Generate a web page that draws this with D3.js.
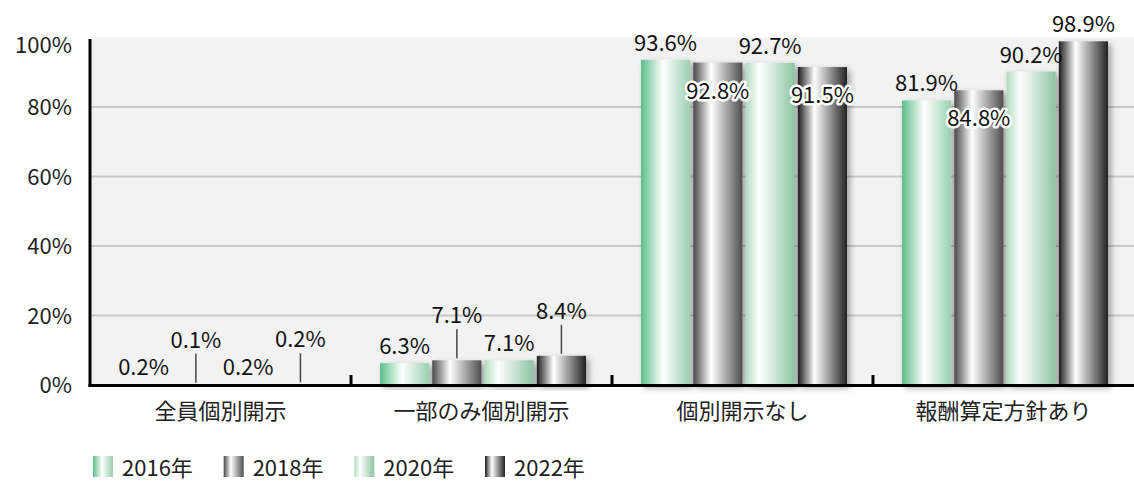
<!DOCTYPE html>
<html><head><meta charset="utf-8">
<script src="https://cdn.jsdelivr.net/npm/d3@7"></script>
<style>
html,body{margin:0;padding:0;background:#fff;}
svg{display:block;font-family:"Noto Sans CJK JP","Noto Sans",sans-serif;}
</style></head>
<body>
<svg id="chart" width="1134" height="483"></svg>
<script>
const categories = ['全員個別開示','一部のみ個別開示','個別開示なし','報酬算定方針あり'];
const years = ['2016年','2018年','2020年','2022年'];
const v2016 = [0.2, 6.3, 93.6, 81.9];
const v2018 = [0.1, 7.1, 92.8, 84.8];
const v2020 = [0.2, 7.1, 92.7, 90.2];
const v2022 = [0.2, 8.4, 91.5, 98.9];
const yTicks = [0, 20, 40, 60, 80, 100];
// label placement mode per series/category
const mode2016 = ['above','above','above','above'];
const mode2018 = ['leader','leader','inside','inside'];
const mode2020 = ['above','above','above','above'];
const mode2022 = ['leader','leader','inside','above'];

const seriesVals = [v2016, v2018, v2020, v2022];
const seriesModes = [mode2016, mode2018, mode2020, mode2022];

const svg = d3.select('#chart');
const pLeft = 90, pRight = 1134, pTop = 37.5, pBottom = 385;

const x0 = d3.scaleBand().domain(categories).range([pLeft, pRight]).padding(0);
const x1 = d3.scaleBand().domain(years).range([29, 235]).paddingInner(0.06).paddingOuter(0);
const y = d3.scaleLinear().domain([0, 100]).range([pBottom, pTop]);

const defs = svg.append('defs');
const gradStops = [
  [[0,'#5cbe8b'],[0.45,'#ffffff'],[1,'#9bd0b0']],
  [[0,'#474747'],[0.36,'#ffffff'],[1,'#4d4d4d']],
  [[0,'#b0dbc0'],[0.28,'#ffffff'],[1,'#8cc4a1']],
  [[0,'#1c1c1c'],[0.34,'#ffffff'],[1,'#222222']]
];
gradStops.forEach((stops, i) => {
  const g = defs.append('linearGradient').attr('id', 'g' + i)
    .attr('x1', '0%').attr('x2', '100%').attr('y1', '0%').attr('y2', '0%');
  stops.forEach(s => g.append('stop').attr('offset', s[0]).attr('stop-color', s[1]));
});
const f = defs.append('filter').attr('id', 'shadow')
  .attr('x', '-30%').attr('y', '-10%').attr('width', '160%').attr('height', '130%');
f.append('feDropShadow').attr('dx', 3).attr('dy', 3).attr('stdDeviation', 3)
  .attr('flood-color', '#000').attr('flood-opacity', 0.35);

const FONT = '"Noto Sans CJK JP","Noto Sans",sans-serif';

// plot background
svg.append('rect').attr('x', pLeft).attr('y', pTop).attr('width', pRight - pLeft).attr('height', pBottom - pTop)
  .attr('fill', '#f2f2f2');

// gridlines
svg.append('g').selectAll('line').data(yTicks.filter(t => t > 0 && t < 100)).join('line')
  .attr('x1', pLeft).attr('x2', pRight).attr('y1', d => y(d)).attr('y2', d => y(d))
  .attr('stroke', '#c8c8c8').attr('stroke-width', 2);

// bars
const fontSize = 22;
const groups = svg.append('g').selectAll('g').data(categories).join('g')
  .attr('transform', d => `translate(${x0(d)},0)`);

groups.selectAll('rect').data((c, ci) => years.map((yr, si) => ({yr, si, v: seriesVals[si][ci]})))
  .join('rect')
  .attr('x', d => x1(d.yr)).attr('width', x1.bandwidth())
  .attr('y', d => y(d.v)).attr('height', d => y(0) - y(d.v))
  .attr('fill', d => `url(#g${d.si})`)
  .attr('filter', 'url(#shadow)');

// axes
const yAxis = d3.axisLeft(y).tickValues(yTicks).tickSize(0).tickFormat(d => d + '%');
const ya = svg.append('g').attr('transform', `translate(${pLeft},0)`).call(yAxis);
ya.select('.domain').remove();
ya.selectAll('text').attr('x', -18).attr('font-size', fontSize).attr('fill', '#222')
  .attr('font-family', FONT)
  .attr('dy', '0.35em')
  .attr('y', d => Math.max(y(d), 45) - y(d));

svg.append('line').attr('x1', pLeft).attr('x2', pLeft).attr('y1', pTop + 1.5).attr('y2', pBottom + 1.5)
  .attr('stroke', '#000').attr('stroke-width', 3);

const xAxis = d3.axisBottom(x0).tickSize(0);
const xa = svg.append('g').attr('transform', `translate(0,${pBottom})`).call(xAxis);
xa.select('.domain').remove();
xa.selectAll('text').attr('y', 24).attr('dy', '0em').attr('font-size', fontSize).attr('fill', '#222')
  .attr('font-family', FONT)
  .attr('dominant-baseline', 'central');
// category separators (ticks pointing up)
svg.append('g').selectAll('line').data(categories.slice(1)).join('line')
  .attr('x1', d => x0(d)).attr('x2', d => x0(d))
  .attr('y1', pBottom - 10).attr('y2', pBottom)
  .attr('stroke', '#000').attr('stroke-width', 3);
svg.append('line').attr('x1', pLeft - 1.5).attr('x2', pRight).attr('y1', pBottom + 0.5).attr('y2', pBottom + 0.5)
  .attr('stroke', '#000').attr('stroke-width', 3);

// value labels
const labels = [];
categories.forEach((c, ci) => years.forEach((yr, si) => {
  labels.push({c, yr, si, v: seriesVals[si][ci], m: seriesModes[si][ci]});
}));
const lg = svg.append('g');
labels.forEach(d => {
  const cx = x0(d.c) + x1(d.yr) + x1.bandwidth() / 2;
  const t = y(d.v);
  let ty;
  if (d.m === 'above') ty = t - 19;
  else if (d.m === 'inside') ty = t + 26;
  else {
    ty = t - 47;
    lg.append('line').attr('x1', cx).attr('x2', cx).attr('y1', t - 31).attr('y2', t - 2)
      .attr('stroke', '#444').attr('stroke-width', 1.5);
  }
  const txt = lg.append('text').attr('x', cx).attr('y', ty)
    .attr('text-anchor', 'middle').attr('dominant-baseline', 'central')
    .attr('font-size', fontSize).attr('fill', '#111')
    .text(d.v.toFixed(1) + '%');
  if (d.m === 'inside') {
    txt.attr('stroke', '#fff').attr('stroke-width', 5).attr('stroke-linejoin', 'round')
      .attr('paint-order', 'stroke');
  }
});

// legend
const legX = d3.scalePoint().domain(years).range([93, 485]);
const leg = svg.append('g');
leg.selectAll('rect').data(years).join('rect')
  .attr('x', d => legX(d)).attr('y', 456).attr('width', 20).attr('height', 21)
  .attr('fill', (d, i) => `url(#g${i})`);
leg.selectAll('text').data(years).join('text')
  .attr('x', d => legX(d) + 29).attr('y', 466).attr('dominant-baseline', 'central')
  .attr('font-family', FONT).attr('font-size', 22).attr('fill', '#222').text(d => d);
</script>
</body></html>
